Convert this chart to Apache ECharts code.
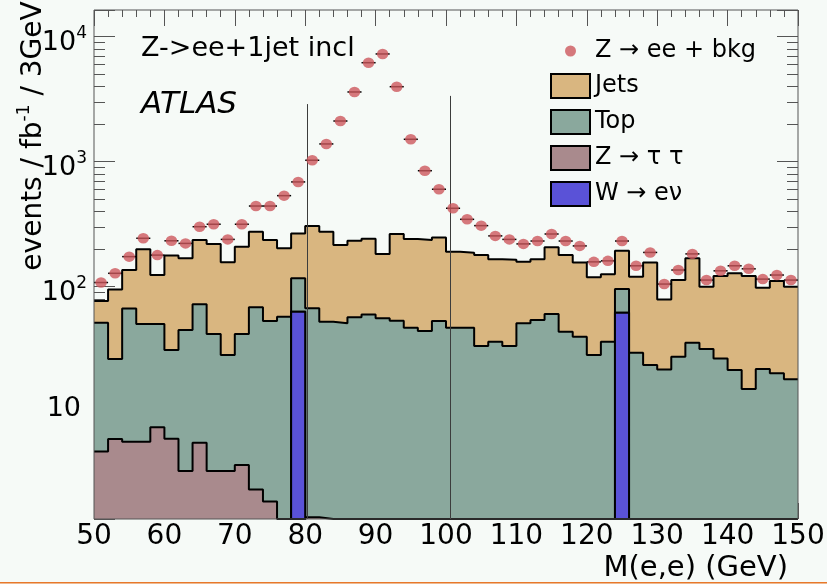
<!DOCTYPE html>
<html>
<head>
<meta charset="utf-8">
<title>Z->ee+1jet incl</title>
<script src="https://cdn.jsdelivr.net/npm/echarts@6/dist/echarts.min.js"></script>
<style>
  html, body { margin: 0; padding: 0; background: #f6faf7; }
  #chart { width: 827px; height: 584px; }
</style>
</head>
<body>
<div id="chart"></div>
<script>
// Dielectron invariant mass, 2 GeV bins from 50 to 150 GeV
const massMin = 50;
const massMax = 150;
const binWidth = 2;

// Expected yields per process (events / fb^-1 per bin)
const jets = [25.5, 68.7, 69, 148.7, 73.7, 146.8, 124, 163.7, 178.2, 128.6,
              167.2, 206.6, 182.8, 145.5, 150, 238.8, 222.5, 165, 176.1, 182.2,
              127.1, 210.5, 194, 191.8, 194.8, 143, 140, 145.4, 129.7, 130.4,
              107, 111.8, 146.5, 135.4, 116.2, 90.6, 89.7, 98.1, 90.4, 132.4,
              57.2, 85.5, 133.4, 68.3, 95.3, 106.4, 106.8, 76, 90.7, 81.8];
const topQuark = [46.7, 20.3, 61.3, 44.6, 42.8, 25.1, 41.6, 66.7, 38.4, 25.0,
                  38.1, 66.0, 51.3, 57.5, 54, 65.8, 52.5, 51, 56.9, 59.8,
                  55.9, 53.5, 47, 44.2, 53.2, 47, 47, 33.6, 36.3, 33.6,
                  51, 54.2, 60.5, 43.6, 39.8, 28.4, 36.3, 33.9, 29.6, 23.6,
                  21.8, 27.5, 35.6, 31.7, 26.7, 21.6, 15.2, 22, 20.3, 18.2];
const ztautau = [4.8, 6.05, 5.75, 5.75, 7.5, 6.08, 3.36, 5.65, 3.36, 3.36,
                 3.75, 2.39, 1.91, 0, 0, 1.43, 0, 0, 0, 0,
                 0, 0, 0, 0, 0, 0, 0, 0, 0, 0,
                 0, 0, 0, 0, 0, 0, 0, 0, 0, 0,
                 0, 0, 0, 0, 0, 0, 0, 0, 0, 0];
const wenu = [0, 0, 0, 0, 0, 0, 0, 0, 0, 0,
              0, 0, 0, 0, 63, 0, 0, 0, 0, 0,
              0, 0, 0, 0, 0, 0, 0, 0, 0, 0,
              0, 0, 0, 0, 0, 0, 0, 62, 0, 0,
              0, 0, 0, 0, 0, 0, 0, 0, 0, 0];

// Z -> ee signal plus background (points)
const zeeData = [108, 128, 174, 244, 179, 233, 222, 302, 316, 239,
                 316, 442, 442, 535, 689, 1027, 1387, 2116, 3612, 6194,
                 7276, 3981, 1511, 847, 602, 424, 346, 308, 255, 239,
                 220, 232, 264, 232, 212, 158, 161, 232, 147, 188,
                 105, 136, 183, 113, 134, 147, 139, 115, 124, 113];

// Mass window markers: position (GeV) and height (events)
const windowMass = [80.3, 100.6];
const windowTop = [2890, 3360];

// Log y range and decade labels
const yMin = 1.386;
const yMax = 16350;
const yDecades = [1, 2, 3, 4];

const FONT = '"DejaVu Sans", sans-serif';
const COLORS = { jets: '#d9b680', top: '#8aa89d', ztt: '#a98a8d', w: '#5a52d7', data: '#cd585d' };
const TICK = '#555';

const nBins = zeeData.length;
const edges = Array.from({ length: nBins + 1 }, (_, i) => massMin + i * binWidth);

function stackOf(parts) {
  return zeeData.map((_, i) => parts.reduce((s, p) => s + p[i], 0));
}
const stackW = stackOf([wenu]);
const stackZtt = stackOf([wenu, ztautau]);
const stackTop = stackOf([wenu, ztautau, topQuark]);
const stackJets = stackOf([wenu, ztautau, topQuark, jets]);

function stepPoints(vals) {
  const pts = vals.map((v, i) => [edges[i], Math.max(v, yMin)]);
  pts.push([edges[nBins], Math.max(vals[nBins - 1], yMin)]);
  return pts;
}

function histSeries(name, vals, fill, z) {
  return {
    name, type: 'line', step: 'end', data: stepPoints(vals),
    symbol: 'none', showSymbol: false, silent: true, z,
    itemStyle: { color: fill },
    lineStyle: { color: '#000', width: 2 },
    areaStyle: { color: fill, opacity: 1, origin: 'start' }
  };
}

// Log-spaced minor ticks (2..9 x 10^n) for both vertical axes
const minorTickVals = [];
for (let n = 0; n <= 4; n++) {
  for (let k = 2; k <= 9; k++) {
    const v = k * Math.pow(10, n);
    if (v > yMin && v < yMax) minorTickVals.push(v);
  }
}

const chart = echarts.init(document.getElementById('chart'), null, { renderer: 'canvas' });

const option = {
  animation: false,
  backgroundColor: '#f6faf7',
  grid: {
    left: 94, right: 29, top: 10, bottom: 65,
    outerBoundsMode: 'none', containLabel: false,
    show: true, borderColor: '#555', borderWidth: 1, backgroundColor: 'transparent', z: 10
  },
  title: [
    { text: 'Z->ee+1jet incl', left: 141, top: 35, padding: 0,
      textStyle: { fontFamily: FONT, fontSize: 27, fontWeight: 'normal', color: '#000' } },
    { text: 'ATLAS', left: 141, top: 89, padding: 0,
      textStyle: { fontFamily: FONT, fontSize: 31, fontStyle: 'italic', fontWeight: 'normal', color: '#000' } }
  ],
  legend: {
    orient: 'vertical', left: 550, top: 39, padding: 0,
    itemWidth: 39, itemHeight: 24, itemGap: 10, itemTextGap: 7,
    selectedMode: false,
    textStyle: { fontFamily: FONT, fontSize: 24, color: '#000' },
    data: [
      { name: 'Z → ee + bkg', icon: 'path://M0,0M39,24M14,12a5.5,5.5 0 1,0 11,0a5.5,5.5 0 1,0 -11,0Z',
        itemStyle: { color: COLORS.data, borderWidth: 0 } },
      { name: 'Jets', icon: 'rect', itemStyle: { color: COLORS.jets, borderColor: '#000', borderWidth: 2 } },
      { name: 'Top', icon: 'rect', itemStyle: { color: COLORS.top, borderColor: '#000', borderWidth: 2 } },
      { name: 'Z → τ τ', icon: 'rect', itemStyle: { color: COLORS.ztt, borderColor: '#000', borderWidth: 2 } },
      { name: 'W → eν', icon: 'rect', itemStyle: { color: COLORS.w, borderColor: '#000', borderWidth: 2 } }
    ]
  },
  xAxis: [
    {
      type: 'value', min: massMin, max: massMax, interval: 10, position: 'bottom',
      axisLine: { show: false },
      axisTick: { inside: true, length: 16, lineStyle: { color: TICK } },
      minorTick: { show: true, splitNumber: 5, length: 7, lineStyle: { color: TICK } },
      splitLine: { show: false }, minorSplitLine: { show: false },
      axisLabel: { fontFamily: FONT, fontSize: 28, color: '#000', margin: 4 },
      name: 'M(e,e) (GeV)', nameLocation: 'end', nameGap: -10,
      nameTextStyle: { fontFamily: FONT, fontSize: 29, color: '#000', align: 'right', verticalAlign: 'top', padding: [35, 0, 0, 0] }
    },
    {
      type: 'value', min: massMin, max: massMax, interval: 10, position: 'top',
      axisLine: { show: false },
      axisTick: { inside: true, length: 16, lineStyle: { color: TICK } },
      minorTick: { show: true, splitNumber: 5, length: 7, lineStyle: { color: TICK } },
      splitLine: { show: false }, minorSplitLine: { show: false },
      axisLabel: { show: false }
    }
  ],
  yAxis: [
    {
      type: 'log', logBase: 10, min: yMin, max: yMax, position: 'left',
      axisLine: { show: false },
      axisTick: { inside: true, length: 21, lineStyle: { color: TICK } },
      splitLine: { show: false },
      axisLabel: {
        margin: 7,
        formatter: (v) => {
          const e = Math.round(Math.log10(v));
          if (Math.abs(Math.log10(v) - e) > 1e-6 || yDecades.indexOf(e) < 0) return '';
          return e === 1 ? '{p|10}' : '{b|10}{s|' + e + '}';
        },
        rich: {
          b: { fontFamily: FONT, fontSize: 27, color: '#000', verticalAlign: 'bottom', padding: [12, 0, 0, 0] },
          s: { fontFamily: FONT, fontSize: 17, color: '#000', verticalAlign: 'bottom', padding: [0, 0, 14, 0] },
          p: { fontFamily: FONT, fontSize: 27, color: '#000', padding: [0, 6, 6, 0] }
        }
      }
    },
    {
      type: 'log', logBase: 10, min: yMin, max: yMax, position: 'right',
      axisLine: { show: false },
      axisTick: { inside: true, length: 21, lineStyle: { color: TICK } },
      splitLine: { show: false },
      axisLabel: { show: false }
    }
  ],
  series: [
    {
      name: 'minor ticks', type: 'custom', silent: true, z: 1,
      data: minorTickVals.map(v => [massMin, v]),
      encode: { x: 0, y: 1 },
      renderItem: (params, api) => {
        const v = api.value(1);
        const L = api.coord([massMin, v]);
        const R = api.coord([massMax, v]);
        const y = Math.round(L[1]) + 0.5;
        return {
          type: 'group',
          children: [
            { type: 'line', shape: { x1: L[0], y1: y, x2: L[0] + 11, y2: y }, style: { stroke: TICK, lineWidth: 1 } },
            { type: 'line', shape: { x1: R[0] - 11, y1: y, x2: R[0], y2: y }, style: { stroke: TICK, lineWidth: 1 } }
          ]
        };
      }
    },
    histSeries('Jets', stackJets, COLORS.jets, 2),
    histSeries('Top', stackTop, COLORS.top, 2),
    histSeries('Z → τ τ', stackZtt, COLORS.ztt, 2),
    {
      name: 'W → eν', type: 'custom', silent: true, z: 3,
      data: stackW.map((v, i) => [edges[i], edges[i + 1], v]).filter(d => d[2] > 0),
      encode: { x: [0, 1], y: 2 },
      renderItem: (params, api) => {
        const p0 = api.coord([api.value(0), api.value(2)]);
        const p1 = api.coord([api.value(1), yMin]);
        return {
          type: 'rect',
          shape: { x: p0[0], y: p0[1], width: p1[0] - p0[0], height: p1[1] - p0[1] },
          style: { fill: COLORS.w, stroke: '#000', lineWidth: 2 }
        };
      }
    },
    {
      name: 'mass window', type: 'custom', silent: true, z: 4,
      data: windowMass.map((m, i) => [m, windowTop[i]]),
      encode: { x: 0, y: 1 },
      renderItem: (params, api) => {
        const a = api.coord([api.value(0), yMin]);
        const b = api.coord([api.value(0), api.value(1)]);
        const x = Math.round(a[0]) + 0.5;
        return { type: 'line', shape: { x1: x, y1: a[1], x2: x, y2: b[1] }, style: { stroke: '#3c3c3c', lineWidth: 1 } };
      }
    },
    {
      name: 'x errors', type: 'custom', silent: true, z: 5,
      data: zeeData.map((v, i) => [edges[i], edges[i + 1], v]),
      encode: { x: [0, 1], y: 2 },
      renderItem: (params, api) => {
        const a = api.coord([api.value(0), api.value(2)]);
        const b = api.coord([api.value(1), api.value(2)]);
        return { type: 'line', shape: { x1: a[0], y1: a[1], x2: b[0], y2: b[1] }, style: { stroke: '#000', lineWidth: 1.5 } };
      }
    },
    {
      name: 'Z → ee + bkg', type: 'scatter', z: 6, silent: true,
      data: zeeData.map((v, i) => [edges[i] + binWidth / 2, v]),
      symbol: 'circle', symbolSize: [11.5, 10.5],
      itemStyle: { color: COLORS.data }
    }
  ],
  graphic: [
    // vertical axis title, reading bottom to top
    {
      type: 'text', x: 32, y: 136, rotation: Math.PI / 2, silent: true,
      style: {
        text: '{t|events / fb}{s|-1}{t| / 3GeV}',
        align: 'center', verticalAlign: 'middle',
        rich: {
          t: { fontFamily: FONT, fontSize: 28, fill: '#000', verticalAlign: 'bottom' },
          s: { fontFamily: FONT, fontSize: 17, fill: '#000', verticalAlign: 'bottom', padding: [0, 0, 14, 0] }
        }
      }
    },
    { type: 'rect', left: 0, top: 582, shape: { width: 827, height: 1.5 }, style: { fill: '#e8782a' }, silent: true }
  ]
};

chart.setOption(option);
</script>
</body>
</html>
